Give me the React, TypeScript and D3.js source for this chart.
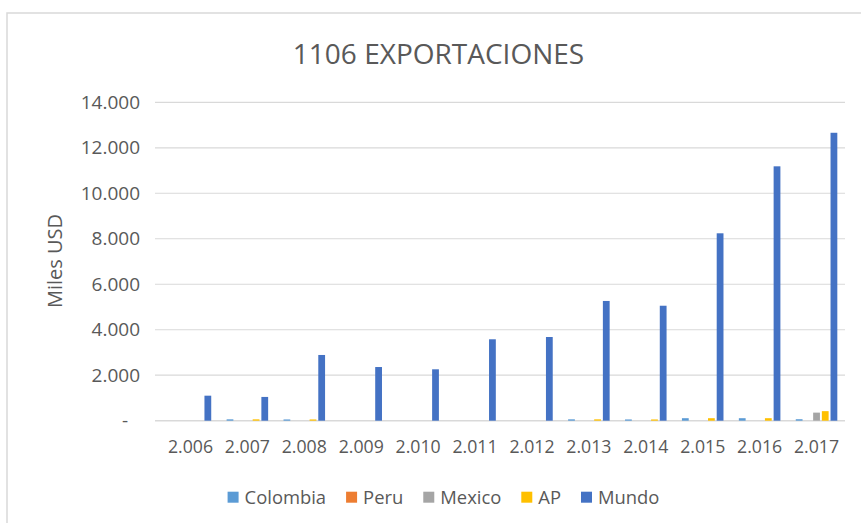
import React, { useEffect, useRef } from "react";
import * as d3 from "d3";

const years = ["2.006", "2.007", "2.008", "2.009", "2.010", "2.011", "2.012", "2.013", "2.014", "2.015", "2.016", "2.017"];
const seriesNames = ["Colombia", "Peru", "Mexico", "AP", "Mundo"];
const colombia = [0, 60, 55, 0, 0, 0, 0, 60, 55, 110, 110, 65];
const peru = [0, 0, 0, 0, 0, 0, 0, 0, 0, 0, 0, 0];
const mexico = [0, 0, 0, 0, 0, 0, 0, 0, 0, 0, 0, 355];
const ap = [0, 60, 55, 0, 0, 0, 0, 60, 55, 110, 110, 420];
const mundo = [1100, 1045, 2890, 2360, 2260, 3580, 3680, 5265, 5055, 8240, 11185, 12660];
const yTicks = [0, 2000, 4000, 6000, 8000, 10000, 12000, 14000];
const colors = ["#5B9BD5", "#ED7D31", "#A5A5A5", "#FFC000", "#4472C4"];
const title = "1106 EXPORTACIONES";
const yTitle = "Miles USD";

const W = 861;
const H = 523;
const FONT = "'Open Sans', 'Noto Sans', sans-serif";
const TXT = "#595959";

export default function App() {
  const ref = useRef<SVGSVGElement | null>(null);

  useEffect(() => {
    const svg = d3.select(ref.current);
    svg.selectAll("*").remove();

    const values = [colombia, peru, mexico, ap, mundo];
    const plotLeft = 155;
    const plotRight = 845;
    const plotTop = 102.3;
    const plotBottom = 420.7;

    // chart frame
    svg.append("rect").attr("x", 0).attr("y", 0).attr("width", W).attr("height", H).attr("fill", "#fff");
    svg.append("rect")
      .attr("x", 7).attr("y", 13).attr("width", W + 20).attr("height", H + 20)
      .attr("fill", "#fff").attr("stroke", "#d9d9d9").attr("stroke-width", 1.5);

    const y = d3.scaleLinear().domain([0, 14000]).range([plotBottom, plotTop]);
    const x0 = d3.scaleBand<string>().domain(years).range([162, plotRight]).paddingInner(0.27).paddingOuter(0.135);
    const x1 = d3.scaleBand<string>().domain(seriesNames).range([0, x0.bandwidth()]).paddingInner(0.22);

    const loc = d3.formatLocale({ decimal: ",", thousands: ".", grouping: [3], currency: ["", ""] });
    const fmt = loc.format(",d");

    // gridlines
    svg.append("g").selectAll("line").data(yTicks).join("line")
      .attr("x1", plotLeft).attr("x2", plotRight)
      .attr("y1", (d) => y(d)).attr("y2", (d) => y(d))
      .attr("stroke", "#d9d9d9").attr("stroke-width", (d) => (d === 0 ? 1.6 : 1.2));

    // y tick labels
    svg.append("g").selectAll("text").data(yTicks).join("text")
      .attr("x", (d) => (d === 0 ? 128 : 140))
      .attr("y", (d) => y(d))
      .attr("dy", "0.35em")
      .attr("text-anchor", "end")
      .attr("font-family", FONT).attr("font-size", 19).attr("fill", TXT)
      .text((d) => (d === 0 ? "-" : fmt(d)));

    // y title
    svg.append("text")
      .attr("transform", `translate(62,261) rotate(-90)`)
      .attr("text-anchor", "middle")
      .attr("font-family", FONT).attr("font-size", 20).attr("fill", TXT)
      .text(yTitle);

    // bars
    const groups = svg.append("g").selectAll("g").data(years).join("g")
      .attr("transform", (d) => `translate(${x0(d)},0)`);
    groups.selectAll("rect")
      .data((_d, i) => seriesNames.map((s, k) => ({ s, k, v: values[k][i] })))
      .join("rect")
      .attr("x", (d) => x1(d.s)!)
      .attr("width", x1.bandwidth())
      .attr("y", (d) => y(d.v))
      .attr("height", (d) => y(0) - y(d.v))
      .attr("fill", (d) => colors[d.k]);

    // x labels
    svg.append("g").selectAll("text").data(years).join("text")
      .attr("x", (d) => x0(d)! + x0.bandwidth() / 2)
      .attr("y", 453.3)
      .attr("text-anchor", "middle")
      .attr("font-family", FONT).attr("font-size", 17.7).attr("fill", TXT)
      .text((d) => d);

    // title
    svg.append("text")
      .attr("x", 438.5).attr("y", 64.3)
      .attr("text-anchor", "middle")
      .attr("font-family", FONT).attr("font-size", 28).attr("fill", TXT)
      .text(title);

    // legend
    const lg = svg.append("g");
    const items = lg.selectAll("g").data(seriesNames).join("g");
    items.append("rect").attr("width", 11).attr("height", 11).attr("y", 491.7).attr("fill", (_d, i) => colors[i]);
    const texts = items.append("text")
      .attr("x", 17).attr("y", 504.3)
      .attr("font-family", FONT).attr("font-size", 18.4).attr("fill", TXT)
      .text((d) => d);
    const widths: number[] = [];
    texts.each(function () {
      widths.push((this as SVGTextElement).getComputedTextLength());
    });
    const gap = 20;
    const itemW = widths.map((w) => 17 + w);
    const total = d3.sum(itemW) + gap * (itemW.length - 1);
    let cx = 443.5 - total / 2;
    items.attr("transform", (_d, i) => {
      const t = `translate(${cx},0)`;
      cx += itemW[i] + gap;
      return t;
    });
  }, []);

  return (
    <svg
      ref={ref}
      width={W}
      height={H}
      style={{ position: "absolute", left: 0, top: 0, display: "block" }}
    />
  );
}
